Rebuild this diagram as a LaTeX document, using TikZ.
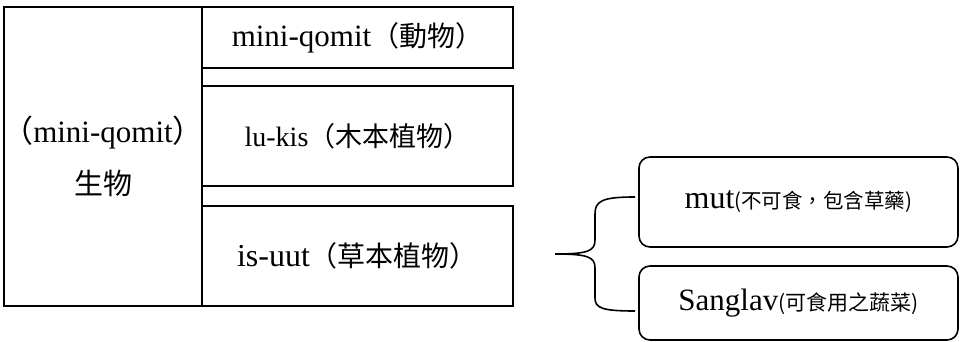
\documentclass[tikz,border=0pt]{standalone}
\usepackage{fontspec}
\usetikzlibrary{calc}
\setmainfont{Liberation Serif}
\newfontfamily\cjk{Noto Sans CJK TC}
\newcommand{\fs}[1]{\fontsize{#1}{#1}\selectfont}
\begin{document}
\begin{tikzpicture}[x=1pt,y=-1pt,
  boxsq/.style={draw=black,line width=1.6pt,rectangle,anchor=north west,inner sep=0pt,outer sep=0pt,align=center},
  boxrd/.style={draw=black,line width=1.6pt,rectangle,rounded corners=11pt,anchor=north west,inner sep=0pt,outer sep=0pt,align=center},
  bracel/.style={draw=black,line width=1.6pt}]
\useasboundingbox[fill=white] (0,0) rectangle (967,342);
\node[boxsq,minimum width=198pt,minimum height=299pt,text width=180pt] (bio) at (4,7)
  {\makebox[180pt][c]{\fs{31}\cjk（\rmfamily mini-qomit\cjk）}\\[20pt]\fs{29}\cjk 生物};
\node[boxsq,minimum width=311pt,minimum height=61pt] (ani) at (202,7)
  {\fs{31}mini-qomit{\cjk\fs{28}（動物）}};
\node[boxsq,minimum width=311pt,minimum height=100pt] (tree) at (202,86)
  {\fs{28}lu-kis{\cjk\fs{27}（木本植物）}};
\node[boxsq,minimum width=311pt,minimum height=100pt] (herb) at (202,206)
  {\fs{32}is-uut{\cjk\fs{28}（草本植物）}};
\node[boxrd,minimum width=319pt,minimum height=90pt] (mut) at (639,157)
  {\fs{32}mut{\cjk\fs{20.5}(不可食，包含草藥)}};
\node[boxrd,minimum width=319pt,minimum height=74pt] (sang) at (639,266)
  {\fs{31}Sanglav{\cjk\fs{21}(可食用之蔬菜)}};
\coordinate (tip) at ($(herb.east)+(42,-2)$);
\coordinate (armA) at ($(mut.west)+(-4,-5)$);
\coordinate (armB) at ($(sang.west)+(-4,8)$);
\draw[bracel] (tip) .. controls (588,254) and (595,251) .. (595,240) -- (595,214)
  .. controls (595,201) and (602,197) .. (armA);
\draw[bracel] (tip) .. controls (588,254) and (595,257) .. (595,268) -- (595,298)
  .. controls (595,308) and (602,311) .. (armB);
\end{tikzpicture}
\end{document}
